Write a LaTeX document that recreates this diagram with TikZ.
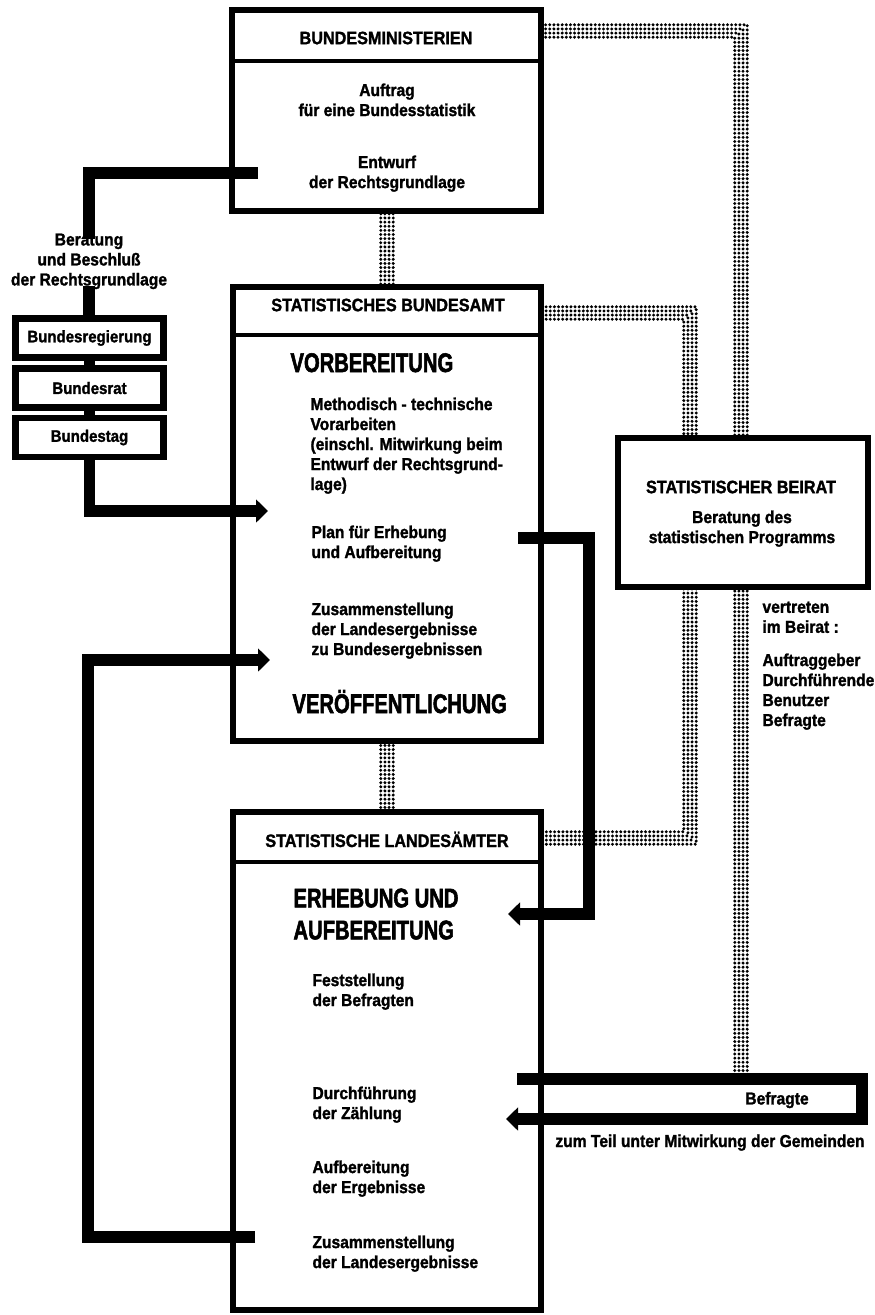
\documentclass[tikz,border=0pt]{standalone}
\usepackage{fontspec}
\setmainfont{Liberation Sans}[FakeStretch=0.9, BoldFeatures={FakeBold=1.5}]
\newfontfamily\bigfont{Liberation Sans}[FakeStretch=0.75, BoldFeatures={FakeBold=2}]
\usetikzlibrary{arrows.meta}

\tikzset{every picture/.style={line width=0.75pt},
	box/.style={draw, fill=white, line width=5pt, outer sep=0pt, inner sep=0pt},
	smallbox/.style={draw, fill=white, line width=5pt, outer sep=0pt, minimum width=111pt, minimum height=29.25pt, font=\bfseries\fontsize{12.5}{15}\selectfont},
	divider/.style={line width=3pt},
	conn/.style={line width=8.5pt, line join=miter},
	arr/.style={-{Triangle[width=17pt,length=9pt]}},
	dotline/.style={line width=2.5pt, line cap=round, dash pattern=on 0pt off 3.1pt},
	hdr/.style={font=\bfseries\fontsize{13.5}{16}\selectfont, inner sep=0pt},
	txt/.style={font=\bfseries\fontsize{13}{15}\selectfont, align=left, inner sep=0pt, anchor=north west},
	ctxt/.style={font=\bfseries\fontsize{13}{15}\selectfont, align=center, inner sep=0pt, anchor=north},
	big/.style={font=\bigfont\bfseries\fontsize{20.2}{24}\selectfont, inner sep=0pt, anchor=base west}
}

\begin{document}
\begin{tikzpicture}[x=0.75pt,y=0.75pt,yscale=-1,xscale=1]
	\useasboundingbox (0,0) rectangle (875,1315);

	%Node positions (boxes are filled white later and hide the band ends)
	\coordinate (bmc) at (386.5,110.5);
	\coordinate (amtc) at (387,514);
	\coordinate (lac) at (387,1061);
	\coordinate (brc) at (743,512.5);

	%Dotted Lines
	\foreach \d in {-4.65,-1.55,1.55,4.65} {
		\draw [dotline, transform canvas={shift={(\d pt,\d pt)}}] (bmc |- 0,31) -| (brc -| 741,0);
		\draw [dotline, transform canvas={shift={(\d pt,\d pt)}}] (amtc |- 0,313) -| (brc -| 690,0);
		\draw [dotline, transform canvas={shift={(\d pt,-\d pt)}}] (brc -| 690,0) |- (lac |- 0,838);
		\draw [dotline, transform canvas={shift={(\d pt,0pt)}}] (brc -| 741,0) -- (741,1080);
		\draw [dotline, transform canvas={shift={(\d pt,0pt)}}] (bmc -| 387,0) -- (amtc -| 387,0);
		\draw [dotline, transform canvas={shift={(\d pt,0pt)}}] (amtc) -- (lac);
	}

	%Shape: Rectangle [Bundesministerien]
	\draw (bmc) node [box, minimum width=231.75pt, minimum height=150.75pt] (bm) {};
	\draw [divider] (bm.west |- 0,61) -- (bm.east |- 0,61);
	%Shape: Rectangle [Statistisches Bundesamt]
	\draw (amtc) node [box, minimum width=231pt, minimum height=340.5pt] (amt) {};
	\draw [divider] (amt.west |- 0,335) -- (amt.east |- 0,335);
	%Shape: Rectangle [Statistische Landesaemter]
	\draw (lac) node [box, minimum width=231pt, minimum height=373.5pt] (la) {};
	\draw [divider] (la.west |- 0,862) -- (la.east |- 0,862);
	%Shape: Rectangle [Statistischer Beirat]
	\draw (brc) node [box, minimum width=187.5pt, minimum height=111.75pt] (br) {};

	%Shape: Rectangle [Gesetzgebung]
	\draw (89.5,338) node [smallbox] (breg) {Bundesregierung};
	\draw (89.5,388) node [smallbox] (brat) {Bundesrat};
	\draw (89.5,437.5) node [smallbox] (btag) {Bundestag};

	% Text Node
	\draw (386,38) node [hdr] (bmhead) {BUNDESMINISTERIEN};
	% Text Node
	\draw (387,83) node [ctxt] (auftrag) {Auftrag\\für eine Bundesstatistik};
	% Text Node
	\draw (387,155) node [ctxt] (entwurf) {Entwurf\\der Rechtsgrundlage};
	% Text Node
	\draw (388,305) node [hdr] (amthead) {STATISTISCHES BUNDESAMT};
	% Text Node
	\draw (290,372) node [big] (vorb) {VORBEREITUNG};
	% Text Node
	\draw (310,397) node [txt] (method) {Methodisch - technische\\Vorarbeiten\\(einschl. Mitwirkung beim\\Entwurf der Rechtsgrund-\\lage)};
	% Text Node
	\draw (311,525) node [txt] (plan) {Plan für Erhebung\\und Aufbereitung};
	% Text Node
	\draw (311,602) node [txt] (zusbund) {Zusammenstellung\\der Landesergebnisse\\zu Bundesergebnissen};
	% Text Node
	\draw (292,713) node [big] (veroeff) {VERÖFFENTLICHUNG};
	% Text Node
	\draw (387,847) node [hdr, anchor=base] (lahead) {STATISTISCHE LANDESÄMTER};
	% Text Node
	\draw (293,888) node [big, anchor=north west, align=left] (erheb) {ERHEBUNG UND\\AUFBEREITUNG};
	% Text Node
	\draw (312,973) node [txt] (festst) {Feststellung\\der Befragten};
	% Text Node
	\draw (312,1086) node [txt] (durchf) {Durchführung\\der Zählung};
	% Text Node
	\draw (312,1160) node [txt] (aufber) {Aufbereitung\\der Ergebnisse};
	% Text Node
	\draw (312,1235) node [txt] (zusland) {Zusammenstellung\\der Landesergebnisse};
	% Text Node
	\draw (741,487) node [hdr] (brhead) {STATISTISCHER BEIRAT};
	% Text Node
	\draw (742,510) node [ctxt] (brtext) {Beratung des\\statistischen Programms};
	% Text Node
	\draw (762,601) node [txt] (vertr) {vertreten\\im Beirat :};
	% Text Node
	\draw (762,653) node [txt] (mitgl) {Auftraggeber\\Durchführende\\Benutzer\\Befragte};
	% Text Node
	\draw (89,233) node [ctxt] (berat) {Beratung\\und Beschluß\\der Rechtsgrundlage};
	% Text Node
	\draw (777,1100) node [ctxt, anchor=center] (befr) {Befragte};
	% Text Node
	\draw (710,1147) node [ctxt, anchor=base] (gemeind) {zum Teil unter Mitwirkung der Gemeinden};

	%Straight Lines [connectors]
	\coordinate (c1) at (258,173);
	\draw [conn] (c1) -| ([yshift=4.5pt]berat.north);
	\draw [conn] ([yshift=-3pt]berat.south) -- (berat.south |- breg.north);
	\draw [conn] (breg.south) -- (brat.north);
	\draw [conn] (brat.south) -- (btag.north);
	\coordinate (t1) at (268,511);
	\draw [conn, arr] (btag.south) |- (t1);
	\coordinate (p1) at (518,538);
	\coordinate (t2) at (508,914);
	\draw [conn, arr] (p1) -- ++(71,0) |- (t2);
	\coordinate (z1) at (255,1237);
	\coordinate (t3) at (270,660);
	\draw [conn, arr] (z1) -- ++(-167,0) |- (t3);
	\coordinate (f1) at (517,1079);
	\coordinate (t4) at (506,1119);
	\draw [conn, arr] (f1) -- ++(345,0) |- (t4);

\end{tikzpicture}
\end{document}
